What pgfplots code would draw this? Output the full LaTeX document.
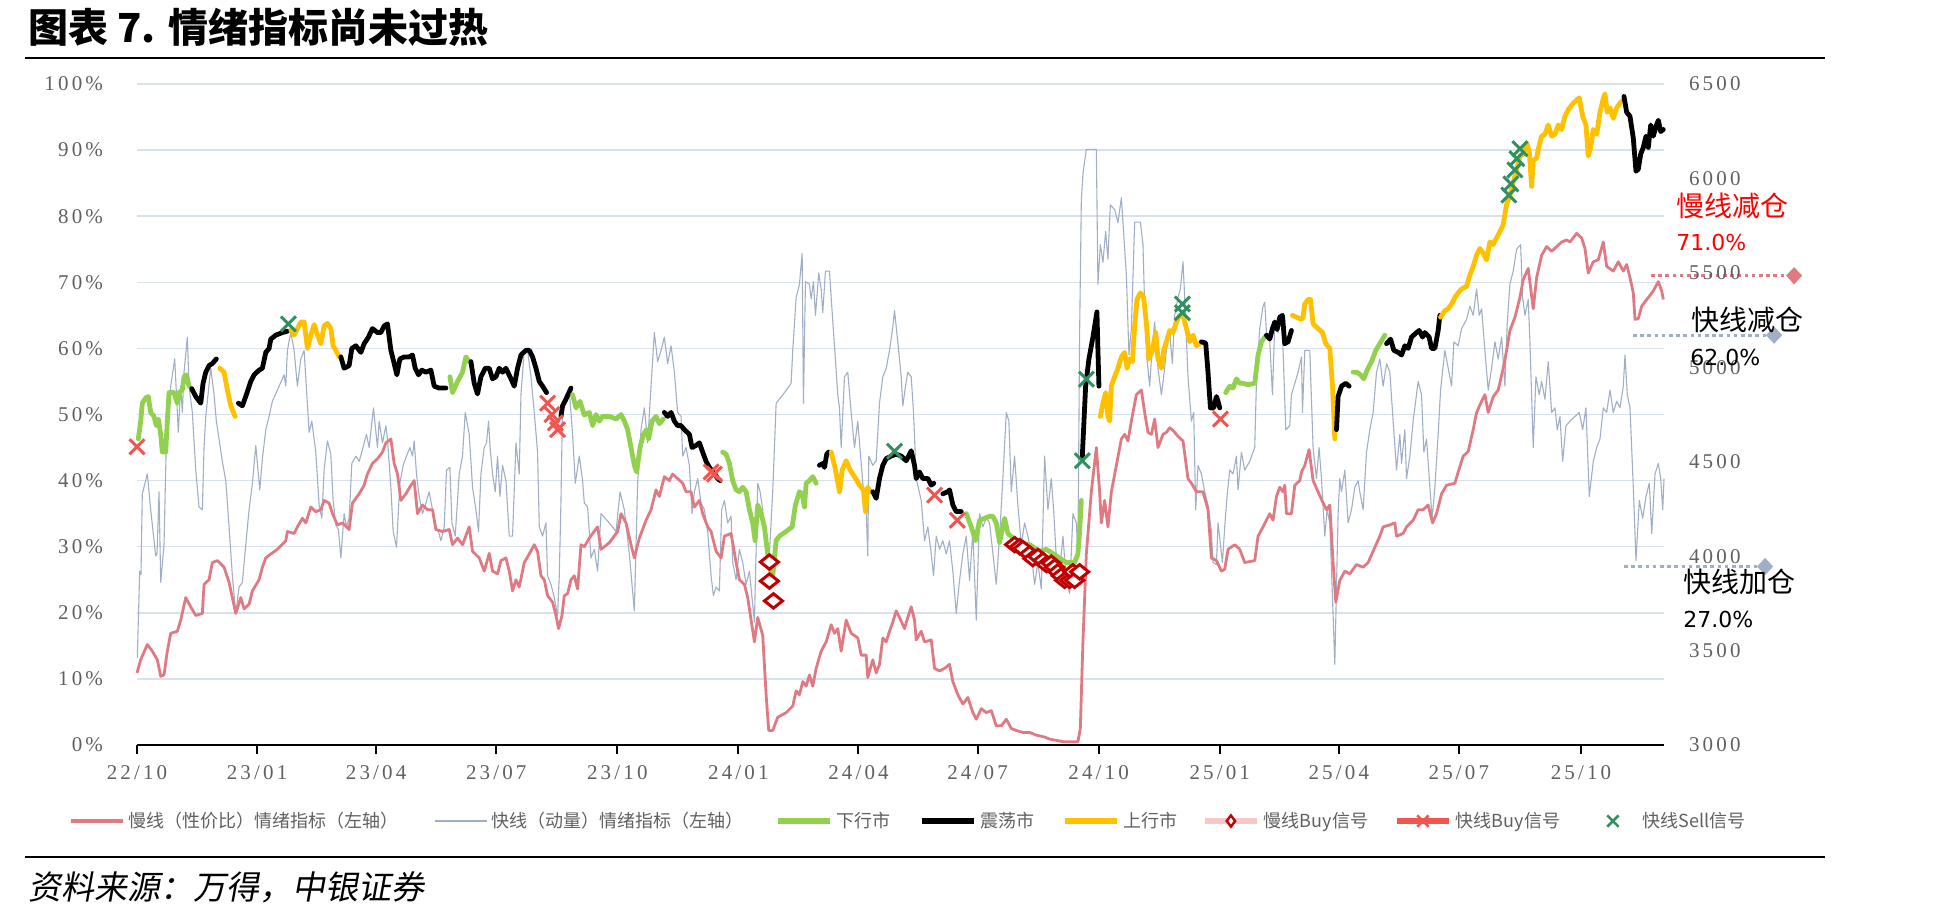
\documentclass[border=0pt]{standalone}
\usepackage{pgfplots}
\pgfplotsset{compat=1.18}
\usepackage{fontspec}
\setmainfont{Liberation Serif}
\newfontfamily\cjk{Noto Sans CJK SC}
\newfontfamily\cjkit{Noto Sans CJK SC}[FakeSlant=0.18]
\newfontfamily\tickfont{Liberation Serif}[LetterSpace=15]
\newfontfamily\pctfont{DejaVu Sans}
\definecolor{slowc}{RGB}{224,122,130}
\definecolor{fastc}{RGB}{160,174,198}
\definecolor{downc}{RGB}{146,208,80}
\definecolor{upc}{RGB}{255,192,0}
\definecolor{sbuyc}{RGB}{192,0,0}
\definecolor{sbuyl}{RGB}{248,200,200}
\definecolor{fbuyc}{RGB}{240,85,80}
\definecolor{fsellc}{RGB}{46,145,95}
\definecolor{gridc}{RGB}{217,225,234}
\definecolor{tickc}{RGB}{96,96,96}
\pgfplotsset{
  idx/.style={line width=2.4pt, line join=round, line cap=round, forget plot, no markers},
  dn/.style={idx, downc}, sd/.style={idx, black}, up/.style={idx, upc},
}
\begin{document}
\begin{tikzpicture}
\path[use as bounding box] (0,0) rectangle (973.5pt,458.5pt);
\node[anchor=west, inner sep=0] at (14pt,445pt) {\cjk\bfseries\fontsize{20pt}{24pt}\selectfont 图表 7. 情绪指标尚未过热};
\draw[line width=1pt] (12.5pt,429.5pt) -- (912.5pt,429.5pt);
\draw[line width=1pt] (12.5pt,30pt) -- (912.5pt,30pt);
\node[anchor=west, inner sep=0] at (14pt,15pt) {\cjkit\fontsize{16.5pt}{19pt}\selectfont 资料来源：万得，中银证券};

\begin{axis}[
  at={(68.5pt,86pt)}, anchor=south west,
  scale only axis, width=763.5pt, height=330.5pt,
  xmin=0, xmax=1526, ymin=0, ymax=100,
  axis x line*=bottom, axis y line*=left,
  x axis line style={-, line width=1.2pt, black},
  y axis line style={draw=none},
  xtick={0,120,239,359,480,601,721,840,961,1082,1201,1321,1443},
  xticklabels={22/10,23/01,23/04,23/07,23/10,24/01,24/04,24/07,24/10,25/01,25/04,25/07,25/10},
  ytick={0,10,...,100},
  yticklabels={0\%,10\%,20\%,30\%,40\%,50\%,60\%,70\%,80\%,90\%,100\%},
  ymajorgrids, grid style={gridc, line width=0.7pt},
  tick align=outside, major tick length=4.5pt,
  xtick style={black, line width=1pt},
  ytick style={draw=none},
  tick label style={font=\tickfont\fontsize{10.5pt}{12pt}\selectfont, text=tickc},
  yticklabel style={xshift=-9pt},
  xticklabel style={yshift=-2pt},
  clip=false,
]
% fast line (grey)
\addplot[fastc, line width=0.55pt, line join=round, forget plot] coordinates {
(0.3,13.2)(2.7,26.3)(4,25.8)(5.3,38.0)(10.3,41.0)(13.7,35.6)(18.7,28.6)(20,28.9)(22,38.3)(23.7,24.6)(27,30.3)(29.3,45.7)(33.7,54.3)(37.7,58.4)(41.3,47.3)(43.7,54.3)(45.3,50.3)(47,56.4)(50.3,61.7)(52,54.3)(55.3,50.3)(58.7,41.6)(62,36.0)(65.3,35.6)(67,45.0)(68.7,49.7)(73.7,57.0)(77,53.0)(79.3,49.0)(85.3,42.9)(88.7,40.0)(92,33.0)(95.3,25.6)(98.7,19.9)(102,23.9)(105.3,24.6)(108.7,30.3)(112,35.6)(115.3,39.6)(118.7,45.3)(122.7,38.6)(125.3,43.3)(128.7,47.7)(132,49.7)(135.3,52.0)(140.3,53.7)(147,56.0)(148.7,54.3)(150.3,59.7)(153.7,62.4)(157,59.7)(160.3,54.3)(163.7,58.4)(167,59.7)(172,47.3)(174.7,49.0)(178.7,44.3)(182,36.3)(184.7,34.3)(187,41.6)(190.3,46.0)(193.7,44.0)(196,37.0)(198.7,33.3)(201.3,32.6)(203.7,28.3)(207,35.0)(209.3,33.0)(212,34.3)(214.7,42.6)(218.7,43.7)(222,42.9)(225.3,44.7)(229.3,47.0)(232,45.0)(236.3,51.0)(240.3,45.0)(242,49.0)(245.3,45.7)(248.7,48.3)(250.3,46.3)(253.7,39.0)(256,32.3)(259.3,29.9)(262.7,39.6)(266,42.3)(269.3,43.7)(272.7,45.0)(275.3,43.7)(277,46.0)(279.3,41.0)(282,37.6)(285.3,35.0)(288.7,36.6)(292,38.3)(295.3,35.6)(298,32.6)(301.3,32.3)(303.7,30.9)(307,33.0)(309.3,41.6)(312.7,42.0)(314.7,33.6)(318,31.6)(322,41.0)(325.3,43.7)(328,50.3)(332,47.0)(335.3,39.0)(338.7,35.6)(341.3,32.3)(343.7,41.0)(347,45.0)(349.3,45.7)(351.3,49.0)(352.7,45.3)(355.3,41.0)(358,38.3)(360.3,43.7)(362.7,37.6)(365.3,42.3)(368.7,40.0)
(372,31.6)(375.3,31.6)(378.7,45.7)(382,41.0)(383.7,53.0)(387,59.7)(390.3,59.7)(393.7,55.7)(397,50.3)(400.3,44.3)(402,33.0)(405.3,31.6)(408.7,33.6)(410.3,25.6)(413.7,24.3)(417,22.3)(420.3,19.6)(422,25.6)(423.7,37.0)(425.3,51.7)(428.7,53.0)(432,53.7)(435.3,47.0)(438,39.6)(442,43.7)(445.3,40.0)(447,36.6)(450.3,36.0)(453.7,28.3)(457,29.6)(460.3,26.3)(463.7,35.0)(472,33.6)(478.7,32.3)(482.7,38.3)(487,35.6)(492,28.9)(497,20.3)(500.3,39.6)(503.7,47.7)(507,51.0)(510.3,45.7)(513.7,54.3)(517,62.4)(520.3,58.0)(523.7,59.7)(527,61.7)(530.3,57.7)(533.7,60.4)(537,56.4)(540.3,50.3)(543.7,49.7)(545.3,43.7)(548.7,45.0)(552,42.3)(554.7,35.0)(557,38.3)(560.3,40.3)(563.7,36.6)(567,35.6)(570.3,32.3)(573.7,25.6)(576,22.6)(578.7,23.9)(582,23.3)(584.3,35.6)(587,37.0)(590.3,33.6)(593.7,34.6)(595.3,27.6)(598.7,25.0)(602,29.6)(605.3,27.6)(608.7,24.3)(612,26.3)(617,18.6)(620.3,39.6)(622.7,38.3)(625.3,35.6)(628.7,30.3)(631.3,26.9)(635.3,38.3)(638.7,51.7)(647,53.3)(653.7,54.7)(655.3,59.7)(658.7,67.7)(662,69.7)(664.7,74.4)(666,51.7)(668,70.1)(672,69.7)(673.7,67.5)(676,70.1)(678,65.0)(681.3,71.4)(683.7,69.0)(685.3,65.4)(688,71.7)(692,71.7)(693.7,67.7)(697,60.4)(700.3,53.0)(702,51.0)(703.7,45.0)(707,55.7)(710.3,56.4)(713.7,50.3)(717,45.0)(720.3,49.0)(725.3,39.6)(728.7,35.6)(730.3,28.6)(731.3,43.7)(735.3,42.3)(738.7,43.0)(742,51.7)(745.3,55.7)(748.7,57.0)
(752,59.7)(755.3,63.2)(757,65.7)(760.3,61.0)(763.7,55.7)(765.3,51.3)(768,54.3)(770.3,56.4)(773.7,55.7)(776,50.3)(778.7,40.3)(783.7,37.0)(787,30.9)(790.3,33.0)(793.7,28.9)(796,25.6)(798.7,31.6)(802,29.6)(805.3,30.9)(808.7,28.9)(812,30.9)(815.3,26.3)(818.7,19.9)(822,24.9)(825.3,28.9)(828.7,31.6)(832,24.9)(835.3,32.3)(838.7,18.9)(842,35.0)(845.3,33.0)(848.7,34.3)(852,33.6)(858.7,24.3)(862,31.6)(865.3,40.3)(868.7,50.3)(871.3,49.0)(873.7,38.3)(877,43.7)(880.3,36.3)(883.7,30.3)(887,33.6)(890.3,31.6)(893.7,28.9)(897,24.3)(900.3,27.6)(903.7,23.6)(907,43.7)(910.3,35.6)(913.7,40.3)(916,35.6)(918.7,28.3)(922,26.3)(925.3,31.6)(928.7,24.9)(932,22.9)(935.3,35.0)(938.7,33.6)(940.3,28.9)(942,62.4)(943.7,82.4)(945.3,86.4)(948.7,90.1)(958.7,90.1)(960.3,69.7)(962.7,75.7)(965.3,73.0)(968,77.7)(970.3,73.5)(972.7,81.7)(977,81.0)(980.3,79.0)(983.7,82.8)(988.7,71.1)(991.3,59.0)(993.7,63.0)(997,79.1)(1002.7,79.1)(1005.3,75.7)(1007,66.4)(1009.3,58.4)(1012,54.3)(1014.3,59.7)(1017,64.0)(1020.3,57.0)(1023.7,53.0)(1026,55.7)(1028.7,59.7)(1032,62.4)(1034.7,57.7)(1037,65.0)(1040.3,67.7)(1042.7,69.0)(1045.3,73.1)(1047,67.7)(1050.3,55.7)(1053.7,49.0)(1056,50.3)(1058,35.6)(1060.3,42.3)(1063.7,41.0)(1067,38.3)(1070.3,36.3)(1073.7,32.3)(1075.3,27.6)(1078.7,27.3)(1080.3,33.6)(1084.7,27.6)(1087,33.0)(1089.3,37.6)(1092,41.6)(1095.3,41.0)(1098.7,43.7)(1100.3,38.6)(1103.7,44.3)(1107,41.6)(1112,42.9)(1117,45.0)(1118.7,55.0)(1122,63.0)(1125.3,66.4)(1127,67.0)(1128.7,62.4)
(1132,61.0)(1134.7,53.0)(1137,63.7)(1140.3,62.4)(1143.7,64.4)(1145.3,59.7)(1148,47.7)(1152,48.3)(1153.7,53.0)(1160.3,56.4)(1163.7,58.7)(1164.7,50.3)(1167,59.7)(1172,59.7)(1175.3,45.0)(1178.7,40.3)(1181.3,45.0)(1183.7,40.3)(1187,31.6)(1189.3,35.6)(1192,33.6)(1194.7,22.3)(1197,12.2)(1200.3,35.0)(1202,40.3)(1203.7,38.3)(1207,41.6)(1210.3,33.6)(1213.7,35.6)(1217,39.0)(1220.3,40.0)(1222,38.3)(1225.3,35.6)(1228.7,44.3)(1232,47.7)(1235.3,50.3)(1238.7,56.4)(1242,58.4)(1245.3,54.3)(1248.7,57.7)(1252,56.4)(1255.3,49.0)(1258.7,41.6)(1262,47.0)(1263.7,42.6)(1267,47.7)(1268.7,40.3)(1272,43.7)(1275.3,49.0)(1280.3,55.0)(1283.7,53.0)(1286,44.3)(1288.7,46.3)(1292,39.0)(1294.3,34.3)(1297,39.0)(1300.3,47.0)(1302.7,53.7)(1307,59.7)(1310.3,57.0)(1313.7,54.3)(1316,61.0)(1320.3,60.4)(1323.7,63.0)(1328.7,64.4)(1332,66.4)(1335.3,65.0)(1338.7,69.0)(1341.3,65.0)(1343.7,66.0)(1347,59.7)(1350.3,53.7)(1353.7,57.0)(1357,61.0)(1360.3,58.4)(1363.7,61.7)(1367,54.3)(1369.3,63.7)(1372,69.7)(1375.3,71.7)(1378.7,75.0)(1382.7,75.7)(1384.7,67.7)(1387,65.0)(1390.3,67.4)(1392,61.0)(1395.3,45.0)(1398,55.7)(1401.3,53.0)(1403.7,55.0)(1407,52.3)(1410.3,58.0)(1413.7,50.3)(1417,51.0)(1419.3,47.7)(1422,49.7)(1424.7,42.9)(1428,48.3)(1432,49.0)(1437,49.7)(1441.3,50.3)(1444.7,47.7)(1448,51.0)(1451.3,37.6)(1455.3,42.9)(1458.7,45.0)(1462,46.3)(1465.3,51.0)(1468.7,50.3)(1472,53.7)(1475.3,50.3)(1478.7,52.0)(1482,51.0)(1485.3,54.3)(1487,59.0)(1489.3,53.0)(1492,51.0)(1495.3,39.0)(1498,27.9)(1501.3,37.0)(1504.7,34.3)(1508,37.6)(1511.3,39.6)(1513.7,32.0)(1517,41.0)(1520.3,42.6)(1522.7,40.3)(1524.7,35.6)(1526,40.3)
};
% slow line (red)
\addplot[slowc, line width=1.4pt, line join=round, forget plot] coordinates {
(0,10.9)(3.7,12.9)(10.3,15.2)(15.3,14.2)(20.3,12.9)(23.7,10.4)(27,10.6)(30.3,14.2)(33.7,16.9)(40.3,17.2)(43.7,18.9)(48.7,22.3)(53.7,20.9)(58.7,19.6)(65.3,19.9)(67,24.3)(72,25.0)(75.3,27.6)(80.3,27.9)(87,26.9)(92,24.6)(98.7,19.9)(103.7,22.3)(107,20.6)(112,21.3)(115.3,23.3)(122,25.0)(125.3,26.9)(128.7,28.3)(133.7,28.9)(140.3,29.6)(148.7,30.9)(150.3,32.3)(157,32.0)(160.3,33.0)(165.3,34.3)(168.7,33.6)(173.7,36.0)(178.7,35.3)(183.7,35.6)(187,37.0)(192,36.6)(195.3,35.0)(200.3,33.3)(205.3,33.6)(212,32.6)(215.3,36.6)(222,38.0)(227,39.3)(230.3,41.0)(235.3,42.6)(240.3,43.3)(245.3,44.3)(248.7,45.7)(253.7,46.3)(257,42.6)(260.3,41.0)(263.7,37.0)(268.7,38.0)(273.7,39.3)(277,40.0)(280.3,35.0)(285.3,36.3)(290.3,35.6)(295.3,35.6)(298.7,32.6)(305.3,32.3)(312,32.6)(315.3,30.3)(320.3,31.3)(325.3,30.3)(332,33.0)(335.3,29.3)(342,28.3)(347,26.3)(352,29.0)(355.3,26.3)(360.3,25.9)(363.7,27.9)(368.7,28.3)
(372,26.3)(375.3,23.3)(378.7,25.0)(382,23.9)(387,27.6)(392,28.9)(397,30.3)(400.3,29.3)(403.7,25.6)(407,25.0)(410.3,22.6)(415.3,21.6)(418.7,19.6)(421.3,17.6)(424.7,19.6)(427,22.6)(430.3,22.9)(433.7,25.0)(437,25.6)(440.3,23.6)(443.7,30.3)(447,30.0)(452,31.3)(455.3,32.0)(460.3,33.0)(463.7,29.6)(472,30.6)(480.3,32.3)(483.7,35.0)(488.7,33.6)(493.7,30.3)(497,28.3)(502,31.3)(508.7,34.0)(513.7,35.6)(518.7,38.6)(522,37.6)(527,40.6)(532,40.0)(535.3,41.0)(540.3,40.3)(545.3,39.6)(548.7,38.3)(553.7,38.3)(557,36.0)(562,37.0)(565.3,35.0)(570.3,33.0)(573.7,32.3)(578.7,29.3)(583.7,28.3)(587,31.6)(593.7,32.0)(598.7,27.6)(602,25.0)(607,24.3)(610.3,22.3)(613.7,18.9)(617,15.6)(620.3,19.3)(625.3,16.6)(628.7,7.6)(631.3,2.2)(635.3,2.2)(640.3,4.2)(648.7,4.9)(655.3,5.9)(658.7,8.2)(662,7.6)(665.3,9.6)(668.7,8.9)(672,10.6)(675.3,8.9)(678.7,11.6)(683.7,14.2)(688.7,15.6)(693.7,18.2)(697,16.9)(700.3,17.6)(703.7,14.2)(708.7,18.9)(713.7,16.9)(720.3,16.2)(723.7,13.6)(728.7,13.6)(730.3,10.2)(735.3,12.9)(738.7,10.9)(742,12.2)(745.3,16.2)(748.7,15.6)
(752,17.2)(755.3,18.6)(758.7,20.3)(762,19.3)(767,17.6)(770.3,19.3)(773.7,20.9)(777,18.9)(778.7,15.9)(783.7,17.2)(787,15.6)(793.7,15.9)(797,11.6)(802,11.2)(807,11.6)(812,12.2)(815.3,9.6)(820.3,7.6)(825.3,6.2)(830.3,7.2)(835.3,4.9)(838.7,3.9)(843.7,5.5)(848.7,4.9)(853.7,5.2)(858.7,2.9)(863.7,2.9)(868.7,3.9)(873.7,2.5)(878.7,2.2)(885.3,1.9)(892,1.9)(898.7,1.5)(907,1.2)(912,0.9)(918.7,0.7)(925.3,0.5)(932,0.5)(940.3,0.5)(942.7,2.5)(945.3,15.6)(948.7,28.9)(953.7,38.3)(958.7,45.0)(962,38.3)(963.7,33.6)(967,37.0)(970.3,33.0)(973.7,38.3)(978.7,42.3)(983.7,46.3)(987,47.0)(990.3,46.0)(993.7,49.0)(998.7,53.0)(1003.7,53.7)(1007,50.3)(1010.3,47.3)(1013.7,47.0)(1017,49.3)(1020.3,45.0)(1025.3,47.0)(1028.7,47.3)(1032,48.0)(1035.3,47.6)(1040.3,46.7)(1045.3,46.0)(1050.3,40.3)(1053.7,39.6)(1058.7,38.3)(1065.3,38.3)(1070.3,35.6)(1073.7,28.3)(1078.7,27.9)(1083.7,26.3)(1087,26.6)(1090.3,29.6)(1097,30.3)(1102,29.6)(1107,27.6)(1117,27.9)(1120.3,31.6)(1125.3,33.0)
(1132,35.0)(1135.3,34.0)(1138.7,37.6)(1142,39.0)(1145.3,38.3)(1147,39.3)(1148.7,35.0)(1153.7,35.0)(1157,39.3)(1162,40.0)(1163.7,41.3)(1167,42.3)(1171.3,44.7)(1175.3,40.0)(1180.3,38.3)(1185.3,36.6)(1188.7,35.6)(1192,36.3)(1195.3,27.6)(1198,21.6)(1202,24.9)(1207,26.3)(1212,25.9)(1218.7,27.3)(1225.3,26.9)(1230.3,27.6)(1237,29.9)(1242,31.6)(1245.3,33.0)(1252,33.3)(1257,33.6)(1258.7,31.6)(1265.3,32.0)(1268.7,33.0)(1275.3,34.0)(1280.3,35.6)(1285.3,35.6)(1290.3,36.3)(1294.7,33.6)(1298.7,35.0)(1303.7,38.0)(1308.7,39.3)(1317,39.6)(1320.3,41.3)(1325.3,43.7)(1330.3,44.4)(1335.3,47.7)(1338.7,50.3)(1343.7,52.0)(1347,53.0)(1350.3,50.3)(1355.3,52.7)(1360.3,53.7)(1365.3,57.0)(1368.7,59.7)(1372,62.7)(1377,64.7)(1382,67.7)(1385.3,70.4)(1390.3,72.1)(1395.3,66.0)(1398.7,70.7)(1403.7,74.1)(1408.7,75.4)(1413.7,74.7)(1418.7,75.4)(1423.7,76.1)(1428.7,76.4)(1432,76.1)(1438.7,77.4)(1443.7,76.7)(1447,75.1)(1450.3,71.4)(1455.3,73.1)(1460.3,73.4)(1465.3,76.1)(1468.7,72.4)(1475.3,71.7)(1480.3,73.1)(1485.3,71.7)(1488.7,72.7)(1492,70.7)(1495.3,68.4)(1497,64.4)(1500.3,64.5)(1503.7,66.4)(1510.3,67.7)(1515.3,68.7)(1520.3,70.1)(1523.7,68.7)(1525.3,67.4)
};
% threshold guides
\addplot[slowc, line width=1.5pt, dash pattern=on 1.8pt off 1.8pt, forget plot] coordinates {(1513,71) (1650,71)};
\addplot[only marks, mark=diamond*, mark size=4pt, mark options={xscale=1.25}, slowc, forget plot] coordinates {(1656,71)};
\addplot[fastc, line width=1.5pt, dash pattern=on 1.8pt off 1.8pt, forget plot] coordinates {(1495,62) (1628,62)};
\addplot[only marks, mark=diamond*, mark size=4pt, mark options={xscale=1.25}, fastc, forget plot] coordinates {(1636,62)};
\addplot[fastc, line width=1.5pt, dash pattern=on 1.8pt off 1.8pt, forget plot] coordinates {(1486,27) (1620,27)};
\addplot[only marks, mark=diamond*, mark size=4pt, mark options={xscale=1.25}, fastc, forget plot] coordinates {(1627,27)};
\end{axis}

\begin{axis}[
  at={(68.5pt,86pt)}, anchor=south west,
  scale only axis, width=763.5pt, height=330.5pt,
  xmin=0, xmax=1526, ymin=3000, ymax=6500,
  axis x line=none, axis y line*=right,
  y axis line style={draw=none},
  ytick={3000,3500,4000,4500,5000,5500,6000,6500},
  yticklabels={3000,3500,4000,4500,5000,5500,6000,6500},
  ytick style={draw=none}, major tick length=0pt,
  yticklabel style={font=\tickfont\fontsize{10.5pt}{12pt}\selectfont, text=tickc, xshift=9pt},
  clip=false,
  legend columns=8,
  legend style={at={(-0.0451,-0.115)}, anchor=west, draw=none, fill=none, inner sep=0pt,
    font=\cjk\fontsize{9pt}{11pt}\selectfont, text=tickc},
  legend cell align=left,
]
\addplot[dn] coordinates {(1.3,4621)(3.7,4715)(5.3,4810)(8.7,4838)(11.3,4845)(13.7,4761)(17,4740)(19.3,4691)(21.3,4726)(23.7,4645)(25.3,4551)(28.7,4551)(30.3,4715)(32,4866)(37,4866)(40.3,4810)(42,4866)(45.3,4880)(47,4950)(49.3,4960)(52,4900)};
\addplot[sd] coordinates {(54.7,4887)(58.7,4845)(63.7,4810)(66,4915)(68.7,4974)(72,5009)(75.3,5020)(79.3,5044)};
\addplot[up] coordinates {(82.7,4995)(87,4974)(90.3,4880)(93.7,4796)(98,4740)};
\addplot[sd] coordinates {(101.3,4810)(105.3,4796)(109.3,4855)(113.7,4925)(117,4960)(122,4985)(125.3,4995)(128.7,5079)(132,5100)(133.7,5149)(138.7,5170)(145.3,5184)(150.3,5191)};
\addplot[up] coordinates {(153.7,5198)(157,5170)(160.3,5205)(163.7,5240)(167,5240)(170.3,5100)(173.7,5170)(177,5226)(180.3,5170)(183.7,5125)(187,5219)(190.3,5233)(193.7,5205)(196,5114)(198.7,5090)(202,5055)};
\addplot[sd] coordinates {(203.7,5055)(207,4995)(212,5009)(214.7,5100)(218.7,5114)(223.7,5079)(227,5125)(231.3,5160)(235.3,5205)(240.3,5184)(243.7,5184)(247,5219)(250.3,5230)(253.7,5090)(257,5020)(259.7,4960)(262.7,5044)(267,5055)(272,5055)(275.3,5065)(278,4995)(281.3,4960)(284.7,4985)(288.7,4974)(293.7,4985)(297,4900)(302,4890)(308.7,4890)};
\addplot[dn] coordinates {(312.7,4950)(315.3,4866)(320.3,4925)(325.3,4974)(328.7,5055)(332,5030)};
\addplot[sd] coordinates {(333.7,5030)(337,4915)(340.3,4859)(343.7,4950)(348,4995)(352,4995)(355.3,4939)(358.7,4950)(362,4995)(365.3,4974)(368.7,4995)(373.7,4939)(377,4900)(380.3,4995)(383.7,5065)(388.7,5090)(392,5090)(395.3,5055)(398.7,4995)(402,4925)(405.3,4900)(409.3,4866)};
\addplot[sd] coordinates {(423.7,4740)(425.3,4796)(428.7,4831)(433.7,4890)};
\addplot[dn] coordinates {(435.3,4855)(438.7,4785)(442.7,4820)(447,4747)(452,4761)(455.3,4691)(458.7,4750)(462,4715)(465.3,4740)(472,4740)(478.7,4726)(483.7,4750)(487,4715)(490.3,4670)(493.7,4575)(497,4481)(499.3,4446)(502.7,4575)(506,4645)(509.3,4670)(511.3,4621)(514.7,4715)(518.7,4740)(522,4701)(526,4726)};
\addplot[sd] coordinates {(527,4761)(530.3,4740)(533.7,4761)(537,4715)(540.3,4691)(543.7,4691)(547,4670)(552,4645)(554.7,4575)(558.7,4586)(562,4600)(565.3,4551)(568.7,4502)(572,4470)(576,4446)(580.3,4411)(582.7,4400)};
\addplot[dn] coordinates {(585.3,4551)(588.7,4540)(592,4491)(595.3,4400)(598.7,4351)(602,4341)(605.3,4365)(608.7,4341)(612,4246)(615.3,4176)(617.7,4082)(620.3,4271)(623.7,4225)(627,4155)(630.3,4012)(632.7,3931)(635.3,3896)(638.7,4082)(642,4106)(648.7,4131)(654.7,4155)(658,4271)(662,4341)(664.7,4330)(667,4260)(668.7,4386)(672,4400)(675.3,4421)(678.7,4386)};
\addplot[sd] coordinates {(682,4481)(685.3,4491)(687,4470)(689.3,4540)(691.3,4551)};
\addplot[up] coordinates {(693.7,4551)(697,4481)(699.3,4421)(702,4341)(704.7,4456)(708.7,4505)(712.7,4456)(717,4421)(722,4376)(726,4351)(728,4236)(730.3,4365)(732.7,4341)};
\addplot[sd] coordinates {(735.3,4341)(738.7,4306)(742,4411)(745.3,4481)(748.7,4516)(753.7,4530)(758.7,4540)(763.7,4530)(768.7,4505)(773.7,4558)(777,4481)(778.7,4411)(782,4446)(785.3,4411)(790.3,4411)(793.7,4376)(796.3,4386)};
\addplot[sd] coordinates {(805.3,4330)(810.3,4341)(812,4351)(815.3,4271)(818.7,4236)(823.7,4236)};
\addplot[dn] coordinates {(828.7,4225)(833.7,4155)(838,4082)(842,4190)(847,4200)(852,4211)(855.3,4211)(858.7,4176)(862,4071)(867,4200)(870.3,4120)(875.3,4096)(882,4061)(892,4061)(902,4026)(908.7,4036)(918.7,4001)(928.7,3966)(937,3966)(940.3,4012)(942,4131)(943.7,4295)};
\addplot[sd] coordinates {(944.7,4530)(948,4900)(951.3,5044)(955.3,5160)(959.3,5293)(960.3,5090)(961.3,4900)};
\addplot[up] coordinates {(962.7,4740)(965.3,4810)(968,4866)(970.3,4740)(972,4715)(973.7,4900)(977,4950)(980.3,4995)(983.7,5055)(987,5079)(989.3,4995)(992,5044)(994.7,5030)(997,5219)(999.3,5359)(1002.7,5394)(1006,5370)(1008.7,5233)(1011.3,5044)(1014.7,5090)(1018,5184)(1020.3,5044)(1023.7,4995)(1026,5090)(1028.7,5135)(1032,5195)(1035.3,5184)(1038.7,5240)(1042,5275)(1045.3,5275)(1048.7,5205)(1052,5135)(1055.3,5170)(1058.7,5114)(1062,5125)};
\addplot[sd] coordinates {(1063.7,5135)(1068,5128)(1070.3,4974)(1072.7,4785)(1076,4785)(1078.7,4845)(1080.3,4820)(1082,4785)};
\addplot[dn] coordinates {(1088,4866)(1092,4900)(1095.3,4890)(1098.7,4939)(1102,4915)(1105.3,4915)(1110.3,4908)(1117,4915)(1120.3,5065)(1123.7,5135)(1127,5160)};
\addplot[sd] coordinates {(1128.7,5170)(1132,5150)(1134.7,5205)(1137,5240)(1139.3,5200)(1142,5265)(1144.7,5275)(1147,5125)(1150.3,5135)(1153.7,5195)};
\addplot[up] coordinates {(1154.7,5275)(1158.7,5265)(1163.7,5254)(1165.3,5265)(1167,5335)(1170.3,5359)(1172.7,5359)(1175.3,5230)(1180.3,5205)(1184.7,5184)(1188,5125)(1192,5100)(1194.7,4900)(1197,4621)};
\addplot[sd] coordinates {(1198.7,4670)(1200.3,4845)(1203.7,4900)(1208,4915)(1211.3,4900)};
\addplot[dn] coordinates {(1215.3,4974)(1219.3,4974)(1222.7,4960)(1226,4939)(1229.3,4985)(1233.7,5030)(1238,5090)(1242,5125)(1247,5170)};
\addplot[sd] coordinates {(1248.7,5125)(1252.7,5149)(1256,5090)(1260.3,5079)(1263.7,5065)(1267,5114)(1270.3,5100)(1273.7,5160)(1278.7,5184)(1281.3,5195)(1284.7,5160)(1287,5184)(1291.3,5160)(1293.7,5100)(1297,5100)(1300.3,5195)(1302,5275)};
\addplot[up] coordinates {(1302.7,5265)(1307,5300)(1310.3,5310)(1313.7,5335)(1317,5370)(1320.3,5394)(1323.7,5415)(1328.7,5429)(1332,5489)(1335.3,5534)(1338.7,5594)(1342,5629)(1345.3,5604)(1348.7,5569)(1352,5664)(1355.3,5650)(1358.7,5685)(1362,5720)(1365.3,5755)(1368.7,5863)(1372,5909)(1375.3,5979)(1378.7,6049)(1382,6119)(1385.3,6129)(1388.7,6189)(1391.3,6143)(1393.7,5958)(1395.3,6094)(1398.7,6108)(1400.3,6154)(1403.7,6224)(1407,6234)(1410.3,6283)(1413.7,6224)(1417,6234)(1420.3,6283)(1423.7,6259)(1427,6329)(1430.3,6364)(1435.3,6399)(1441.3,6427)(1444.7,6329)(1448,6283)(1450.3,6119)(1452.7,6164)(1455.3,6259)(1458.7,6234)(1462,6350)(1465.3,6423)(1467,6448)(1469.3,6350)(1472,6374)(1475.3,6318)(1478.7,6374)(1482,6399)(1484.7,6413)};
\addplot[sd] coordinates {(1486,6434)(1488.7,6350)(1492,6329)(1495.3,6213)(1498,6038)(1500.3,6049)(1502.7,6129)(1505.3,6164)(1508,6224)(1510.3,6164)(1512.7,6283)(1515.3,6224)(1518,6276)(1520.3,6308)(1522.7,6248)(1525.3,6259)};
% slow-line buy signals
\addplot[only marks, mark=diamond*, mark size=4pt, mark options={xscale=1.5, yscale=0.9, draw=sbuyc, fill=white}, line width=1.5pt, forget plot] coordinates {
(632,3969)(632,3868)(636,3763)(877,4061)(882,4050)(885.3,4040)(892,4012)(895.3,3987)(900.3,3998)(905.3,3977)(908.7,3956)(913.7,3963)(917,3942)(920.3,3917)(923.7,3896)(927,3872)(932,3872)(935.3,3917)(937,3872)(942,3917)};
% fast-line buy signals
\addplot[only marks, mark=x, mark size=5.3pt, fbuyc, line width=1.5pt, forget plot] coordinates {
(0,4579)(410.3,4810)(414.7,4750)(418,4705)(420.3,4670)(573.7,4446)(577,4435)(797,4323)(819.7,4190)(1082.7,4726)};
% fast-line sell signals
\addplot[only marks, mark=x, mark size=5.3pt, fsellc, line width=1.5pt, forget plot] coordinates {
(151.3,5230)(757,4556)(944.7,4505)(948.7,4937)(1044.7,5335)(1044.7,5289)(1371,5912)(1373,5971)(1377,6045)(1379,6105)(1382,6157)};
% legend
\addlegendimage{legend image code/.code={\draw[slowc, line width=2pt] (0pt,0pt) -- (26pt,0pt);}}
\addlegendentry{\makebox[150.7pt][l]{慢线（性价比）情绪指标（左轴）}}
\addlegendimage{legend image code/.code={\draw[fastc, line width=1pt] (0pt,0pt) -- (26pt,0pt);}}
\addlegendentry{\makebox[139.5pt][l]{快线（动量）情绪指标（左轴）}}
\addlegendimage{legend image code/.code={\draw[downc, line width=3pt] (0pt,0pt) -- (26pt,0pt);}}
\addlegendentry{\makebox[39pt][l]{下行市}}
\addlegendimage{legend image code/.code={\draw[black, line width=3pt] (0pt,0pt) -- (26pt,0pt);}}
\addlegendentry{\makebox[38.5pt][l]{震荡市}}
\addlegendimage{legend image code/.code={\draw[upc, line width=3pt] (0pt,0pt) -- (26pt,0pt);}}
\addlegendentry{\makebox[37pt][l]{上行市}}
\addlegendimage{legend image code/.code={\draw[sbuyl, line width=3pt] (0pt,0pt) -- (26pt,0pt); \draw[sbuyc, line width=1.2pt, mark=diamond*, mark size=2.8pt, mark options={fill=white}] plot coordinates {(13pt,0pt)};}}
\addlegendentry{\makebox[63pt][l]{慢线Buy信号}}
\addlegendimage{legend image code/.code={\draw[fbuyc, line width=3pt] (0pt,0pt) -- (26pt,0pt); \draw[fbuyc, line width=1.3pt, mark=x, mark size=4pt] plot coordinates {(13pt,0pt)};}}
\addlegendentry{\makebox[63.5pt][l]{快线Buy信号}}
\addlegendimage{legend image code/.code={\path[draw=none] (0pt,0pt) -- (26pt,0pt); \draw[fsellc, line width=1.3pt, mark=x, mark size=4pt] plot coordinates {(13pt,0pt)};}}
\addlegendentry{快线Sell信号}
\end{axis}

\node[anchor=west, inner sep=0, text=red] at (838pt,355.5pt) {\cjk\fontsize{14pt}{16pt}\selectfont 慢线减仓};
\node[anchor=west, inner sep=0, text=red] at (838pt,337.5pt) {\pctfont\fontsize{11pt}{13pt}\selectfont 71.0\%};
\node[anchor=west, inner sep=0] at (845.5pt,298.5pt) {\cjk\fontsize{14pt}{16pt}\selectfont 快线减仓};
\node[anchor=west, inner sep=0] at (845pt,280pt) {\pctfont\fontsize{11pt}{13pt}\selectfont 62.0\%};
\node[anchor=west, inner sep=0] at (841.5pt,167.5pt) {\cjk\fontsize{14pt}{16pt}\selectfont 快线加仓};
\node[anchor=west, inner sep=0] at (841.5pt,149pt) {\pctfont\fontsize{11pt}{13pt}\selectfont 27.0\%};
\end{tikzpicture}
\end{document}
